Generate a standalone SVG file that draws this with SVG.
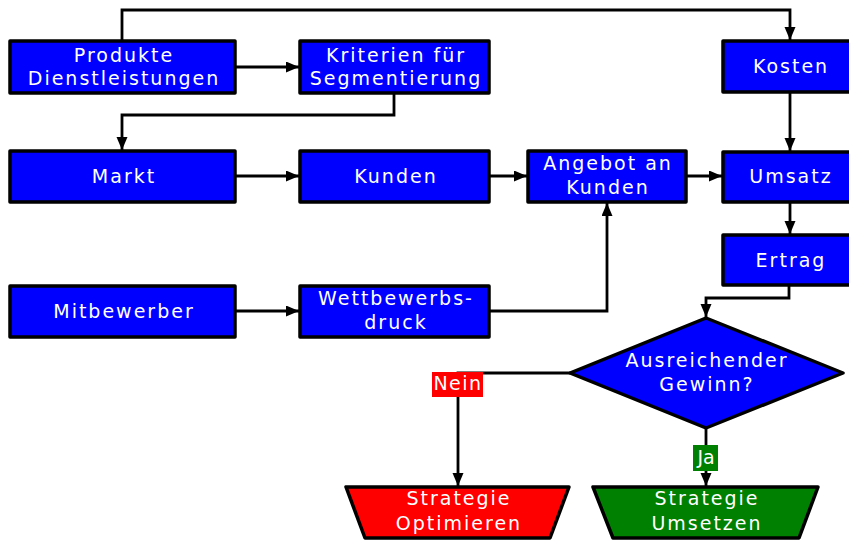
<svg xmlns="http://www.w3.org/2000/svg" width="849" height="540" viewBox="0 0 849 540">
<style>
.box{fill:#0000ff;stroke:#000;stroke-width:3.5;stroke-linejoin:round}
.red{fill:#ff0000;stroke:#000;stroke-width:3.5;stroke-linejoin:round}
.green{fill:#008000;stroke:#000;stroke-width:3.5;stroke-linejoin:round}
text{font-family:"DejaVu Sans",sans-serif;font-size:19px;fill:#fff;text-anchor:middle;letter-spacing:2px}
.c{fill:none;stroke:#000;stroke-width:2.8;marker-end:url(#ah)}
</style>
<defs>
<marker id="ah" markerUnits="userSpaceOnUse" markerWidth="14" markerHeight="12" refX="13" refY="5.5" orient="auto">
<path d="M0,0 L13,5.5 L0,11 z" fill="#000"/>
</marker>
</defs>
<g id="connectors">
<path class="c" d="M122,41 V10 H790 V40"/>
<path class="c" d="M235,67 H299"/>
<path class="c" d="M394,93 V115 H122 V150"/>
<path class="c" d="M235,176 H299"/>
<path class="c" d="M489,176 H527"/>
<path class="c" d="M686,176 H722"/>
<path class="c" d="M790,92 V151"/>
<path class="c" d="M790,202 V234"/>
<path class="c" d="M235,311 H299"/>
<path class="c" d="M489,311 H607 V203"/>
<path class="c" d="M789,285 V298 H706 V317"/>
<path class="c" d="M570,373 H458 V486"/>
<path class="c" d="M706,428 V486"/>
</g>
<g id="produkte"><rect class="box" x="10" y="41" width="225" height="52"/><text x="124" y="62">Produkte</text><text x="124" y="85">Dienstleistungen</text></g>
<g id="kriterien"><rect class="box" x="300" y="41" width="189" height="52"/><text x="396" y="62">Kriterien für</text><text x="396" y="85">Segmentierung</text></g>
<g id="kosten"><rect class="box" x="723" y="41" width="134" height="51"/><text x="791" y="73">Kosten</text></g>
<g id="markt"><rect class="box" x="10" y="151" width="225" height="51"/><text x="124" y="183">Markt</text></g>
<g id="kunden"><rect class="box" x="300" y="151" width="189" height="51"/><text x="396" y="183">Kunden</text></g>
<g id="angebot"><rect class="box" x="528" y="151" width="158" height="51"/><text x="608" y="170">Angebot an</text><text x="608" y="194">Kunden</text></g>
<g id="umsatz"><rect class="box" x="723" y="152" width="134" height="50"/><text x="791" y="183">Umsatz</text></g>
<g id="ertrag"><rect class="box" x="723" y="235" width="134" height="50"/><text x="791" y="267">Ertrag</text></g>
<g id="mitbewerber"><rect class="box" x="10" y="286" width="225" height="51"/><text x="124" y="318">Mitbewerber</text></g>
<g id="wettbewerbsdruck"><rect class="box" x="300" y="286" width="189" height="51"/><text x="396" y="305">Wettbewerbs-</text><text x="396" y="329">druck</text></g>
<g id="gewinn"><polygon class="box" points="706,318 843,373 706,428 570,373"/><text x="707" y="367">Ausreichender</text><text x="707" y="391">Gewinn?</text></g>
<g id="optimieren"><polygon class="red" points="346,487 569,487 550,538 365,538"/><text x="459" y="505">Strategie</text><text x="459" y="530">Optimieren</text></g>
<g id="umsetzen"><polygon class="green" points="593,487 818,487 799,538 613,538"/><text x="707" y="505">Strategie</text><text x="707" y="530">Umsetzen</text></g>
<g id="labels">
<rect x="432" y="372" width="51" height="25" fill="#ff0000"/><text x="458" y="390" style="letter-spacing:1.5px">Nein</text>
<rect x="693" y="445" width="25" height="26" fill="#008000"/><text x="706" y="464" style="letter-spacing:0">Ja</text>
</g>
</svg>
